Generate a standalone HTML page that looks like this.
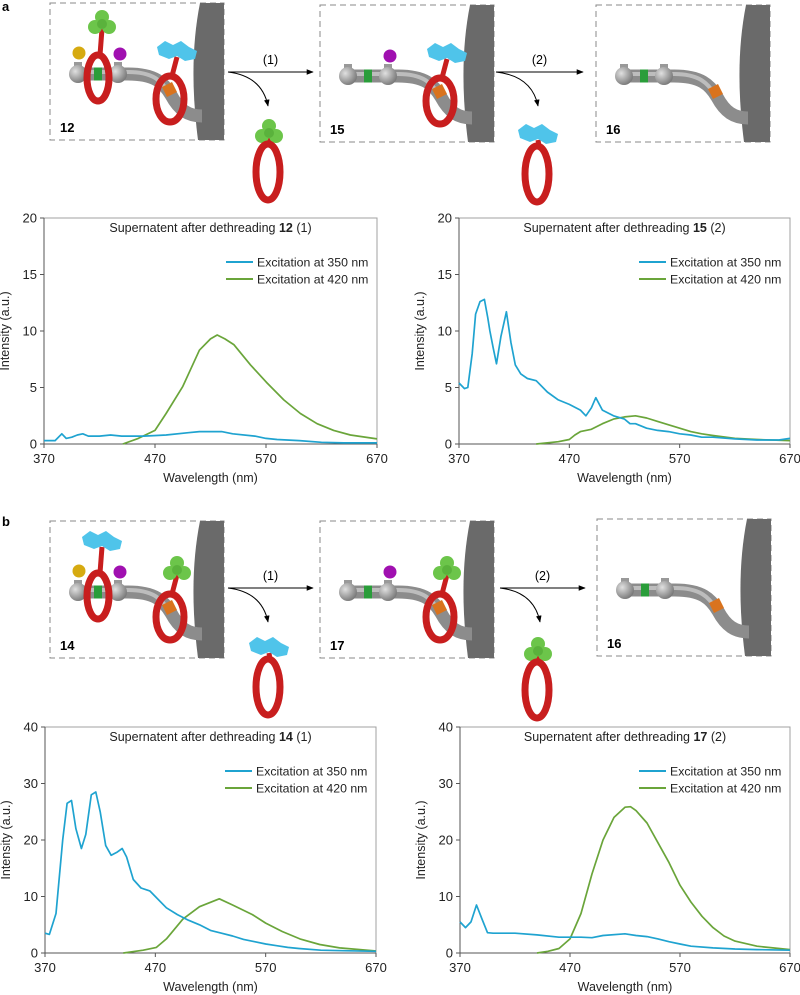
<!DOCTYPE html>
<html><head><meta charset="utf-8"><style>
html,body{margin:0;padding:0;background:#fff;}
svg{display:block;font-family:"Liberation Sans",Arial,sans-serif;}
</style></head><body>
<svg id="fig" width="800" height="995" viewBox="0 0 800 995" xmlns="http://www.w3.org/2000/svg">
<defs>
<radialGradient id="ballg" cx="0.35" cy="0.35" r="0.7"><stop offset="0" stop-color="#e0e0e0"/><stop offset="1" stop-color="#777"/></radialGradient>
<marker id="ah" viewBox="0 0 10 10" refX="9" refY="5" markerWidth="7" markerHeight="7" orient="auto"><path d="M0,1 L10,5 L0,9 z" fill="#000"/></marker>
</defs>
<text x="2" y="11" font-size="13" font-weight="bold">a</text>
<text x="2" y="526" font-size="13" font-weight="bold">b</text>
<g id="schem"></g>
<g id="charts"></g>
</svg>
<script>
// ---------- chart data ----------
const xTicks = [370, 470, 570, 670];
const yTicksTop = [0, 5, 10, 15, 20];
const yTicksBottom = [0, 10, 20, 30, 40];
const seriesNames = ["Excitation at 350 nm", "Excitation at 420 nm"];

const a1BlueX = [370,380,386,390,395,400,405,410,420,430,440,460,480,500,510,520,530,540,560,570,580,600,620,640,670];
const a1BlueY = [0.3,0.3,0.9,0.5,0.6,0.8,0.9,0.7,0.7,0.8,0.7,0.7,0.8,1.0,1.1,1.1,1.1,0.9,0.7,0.5,0.4,0.3,0.15,0.1,0.1];
const a1GreenX = [441,455,470,480,495,510,520,526,533,541,556,571,586,601,616,631,646,670];
const a1GreenY = [0,0.5,1.2,2.7,5.1,8.3,9.3,9.65,9.3,8.8,7.0,5.4,3.9,2.7,1.8,1.2,0.8,0.45];

const a2BlueX = [370,375,378,382,385,389,393,396,398,401,404,408,413,417,421,426,432,440,450,460,470,480,485,490,494,500,510,520,525,530,540,550,560,570,580,590,600,620,640,660,670];
const a2BlueY = [5.4,4.9,5,8,11.5,12.6,12.8,11.2,10,8.5,7.1,9.5,11.7,9,7,6.2,5.8,5.6,4.6,3.9,3.5,3.0,2.5,3.2,4.1,3.0,2.5,2.2,1.8,1.8,1.4,1.2,1.1,0.9,0.8,0.6,0.6,0.45,0.35,0.35,0.5];
const a2GreenX = [440,450,460,470,475,480,490,500,510,520,530,540,550,560,570,580,590,600,620,640,670];
const a2GreenY = [0,0.1,0.2,0.4,0.8,1.1,1.3,1.8,2.2,2.4,2.5,2.3,2.0,1.7,1.4,1.1,0.9,0.75,0.5,0.4,0.3];

const b1BlueX = [370,374,380,386,390,394,398,403,407,412,416,420,425,430,435,440,444,450,457,465,470,480,490,500,510,520,530,540,550,560,570,580,590,600,620,640,670];
const b1BlueY = [3.5,3.3,7,20,26.5,27,22,18.5,21,28,28.5,25,19,17.3,17.8,18.5,17,13,11.5,11,10,8,6.8,5.8,5,4,3.5,3,2.4,2,1.6,1.3,1,0.8,0.5,0.4,0.3];
const b1GreenX = [441,459,471,480,495,510,528,540,558,570,585,601,619,637,670];
const b1GreenY = [0,0.5,1.0,2.5,6,8.2,9.6,8.5,6.8,5.3,3.8,2.5,1.5,0.9,0.35];

const b2BlueX = [370,375,380,385,390,395,400,420,440,460,480,490,500,520,530,540,550,560,570,580,600,620,640,670];
const b2BlueY = [5.5,4.5,5.5,8.5,6,3.6,3.5,3.5,3.2,2.8,2.8,2.7,3.1,3.4,3.1,2.9,2.5,2.0,1.6,1.2,0.9,0.7,0.6,0.5];
const b2GreenX = [440,450,460,470,480,490,500,510,520,525,530,540,550,560,570,580,590,600,610,620,640,670];
const b2GreenY = [0,0.3,0.8,2.5,7,14,20,24,25.8,25.9,25.2,23,19.5,16,12,9,6.5,4.5,3,2.1,1.2,0.6];

const NS = "http://www.w3.org/2000/svg";
function mk(tag, attrs, parent){ const e=document.createElementNS(NS,tag); for(const k in attrs) e.setAttribute(k,attrs[k]); if(parent) parent.appendChild(e); return e; }
const BLUE="#1fa3d0", GREEN="#6aa53a";

function chart(prefix, x0, x1, y0, yTop, yMax, yTicks, bnum, step, bx, by, gx, gy){
  const root=document.getElementById('charts');
  const g=mk('g',{},root);
  
  
  const sx=v=>x0+(v-370)/300*(x1-x0);
  const sy=v=>y0-(v/yMax)*(y0-yTop);
  const frame=mk('path',{d:`M${x0},${yTop} L${x1},${yTop} L${x1},${y0}`,fill:'none',stroke:'#a0a0a0','stroke-width':1},g);
  
  
  const yax=mk('line',{x1:x0,y1:yTop,x2:x0,y2:y0,stroke:'#555','stroke-width':1},g);
  
  
  const xax=mk('line',{x1:x0,y1:y0,x2:x1,y2:y0,stroke:'#555','stroke-width':1},g);
  
  
  yTicks.forEach(t=>{
    mk('line',{x1:x0-4,y1:sy(t),x2:x0,y2:sy(t),stroke:'#555'},g);
    const tx=mk('text',{x:x0-7,y:sy(t)+4.5,'font-size':13,'text-anchor':'end',fill:'#222'},g);
    tx.textContent=t;
    
    
  });
  xTicks.forEach(t=>{
    mk('line',{x1:sx(t),y1:y0,x2:sx(t),y2:y0+4,stroke:'#555'},g);
    const tx=mk('text',{x:sx(t),y:y0+19,'font-size':13,'text-anchor':'middle',fill:'#222'},g);
    tx.textContent=t;
    
    
  });
  const cx=(x0+x1)/2;
  const tt=mk('text',{x:cx,y:yTop+14,'font-size':12.5,'text-anchor':'middle',fill:'#222'},g);
  tt.innerHTML=`Supernatent after dethreading <tspan font-weight="bold">${bnum}</tspan> (${step})`;
  
  
  const xt=mk('text',{x:cx,y:y0+38,'font-size':12.5,'text-anchor':'middle',fill:'#222'},g);
  xt.textContent='Wavelength (nm)';
  
  
  const ymid=(y0+yTop)/2;
  const yt=mk('text',{x:x0-35,y:ymid,'font-size':12.5,'text-anchor':'middle',fill:'#222',transform:`rotate(-90 ${x0-35} ${ymid})`},g);
  yt.textContent='Intensity (a.u.)';
  
  
  [[BLUE,0],[GREEN,1]].forEach(([c,i])=>{
    const ly=yTop+44+i*17;
    const lx=x1-151;
    const ll=mk('line',{x1:lx,y1:ly,x2:lx+27,y2:ly,stroke:c,'stroke-width':2},g);
    
    
    const lt=mk('text',{x:lx+31,y:ly+4.5,'font-size':12.3,fill:'#222'},g);
    lt.textContent=seriesNames[i];
    
    
  });
  const line=(xs,ys,c,name)=>{
    const d=xs.map((x,i)=>(i?'L':'M')+sx(x).toFixed(1)+','+sy(ys[i]).toFixed(1)).join(' ');
    const p=mk('path',{d,fill:'none',stroke:c,'stroke-width':1.7,'stroke-linejoin':'round'},g);
    
    
  };
  line(gx,gy,GREEN,'series-420nm');
  line(bx,by,BLUE,'series-350nm');
}
chart('a1',44,377,444,218,20,yTicksTop,'12','1',a1BlueX,a1BlueY,a1GreenX,a1GreenY);
chart('a2',459,790,444,218,20,yTicksTop,'15','2',a2BlueX,a2BlueY,a2GreenX,a2GreenY);
chart('b1',45,376,953,727,40,yTicksBottom,'14','1',b1BlueX,b1BlueY,b1GreenX,b1GreenY);
chart('b2',460,790,953,727,40,yTicksBottom,'17','2',b2BlueX,b2BlueY,b2GreenX,b2GreenY);

// ---------- schematics ----------
const S=document.getElementById('schem');
function greenBlob(p,x,y){
  const g=mk('g',{},p);
  
  
  [[0,-6],[-7,4],[7,4]].forEach(([dx,dy])=>mk('circle',{cx:x+dx,cy:y+dy,r:7,fill:'#6cc54a'},g));
  mk('circle',{cx:x,cy:y+1,r:5,fill:'#5ab23c'},g);
}
function cyanBlob(p,x,y){
  const g=mk('g',{},p);
  
  
  mk('path',{d:`M${x-20},${y-4} L${x-12},${y-10} L${x-4},${y-6} L${x+4},${y-10} L${x+12},${y-4} L${x+20},${y} L${x+18},${y+8} L${x+8},${y+10} L${x},${y+5} L${x-8},${y+8} L${x-18},${y+4} z`,fill:'#4fc4ea'},g);
}
function ring(p,x,y,rx,ry,blob,bx,by){
  const g=mk('g',{},p);
  
  
  mk('line',{x1:x+2,y1:y-ry,x2:bx,y2:by+6,stroke:'#c81e1e','stroke-width':5},g);
  if(blob==='g') greenBlob(g,bx,by); else cyanBlob(g,bx,by);
  mk('ellipse',{cx:x,cy:y,rx:rx,ry:ry,fill:'none',stroke:'#c81e1e','stroke-width':7},g);
}
function schem(name,ox,oy,label,opts){
  const g=mk('g',{transform:`translate(${ox},${oy})`},S);
  
  
  mk('rect',{x:0,y:0,width:174,height:137,fill:'none',stroke:'#888','stroke-dasharray':'6,4','stroke-width':1},g);
  mk('path',{d:'M150,0 L174,0 L174,137 L148,137 Q138,60 150,0 z',fill:'#6a6a6a'},g);
  mk('path',{d:'M23,71 L78,71 C105,71 114,80 121,92 C129,107 138,113 152,113',fill:'none',stroke:'#8c8c8c','stroke-width':13},g);
  mk('path',{d:'M23,69 L78,69 C103,69 112,78 119,90',fill:'none',stroke:'#bdbdbd','stroke-width':4},g);
  mk('rect',{x:44,y:64.5,width:8,height:13,fill:'#2a9d3a'},g);
  mk('path',{d:'M112,84 L122,79 L127,89 L117,94 z',fill:'#d9731e'},g);
  [28,68].forEach(bx=>{mk('rect',{x:bx-4,y:59,width:8,height:8,fill:'#999'},g);mk('circle',{cx:bx,cy:71,r:9,fill:'url(#ballg)'},g);});
  if(opts.yellow) mk('circle',{cx:29,cy:50,r:6.5,fill:'#d6aa10'},g);
  if(opts.purple) mk('circle',{cx:70,cy:51,r:6.5,fill:'#a010b0'},g);
  if(opts.r1) ring(g,48,75,11,23,opts.r1,52,20);
  if(opts.r2) ring(g,120,96,14,23,opts.r2,127,48);
  const t=mk('text',{x:10,y:129,'font-size':13,'font-weight':'bold'},g);
  t.textContent=label;
  
  
}
schem('rotaxane-12',50,3,'12',{yellow:1,purple:1,r1:'g',r2:'c'});
schem('rotaxane-15',320,5,'15',{purple:1,r2:'c'});
schem('axle-16-a',596,5,'16',{});
schem('rotaxane-14',50,521,'14',{yellow:1,purple:1,r1:'c',r2:'g'});
schem('rotaxane-17',320,521,'17',{purple:1,r2:'g'});
schem('axle-16-b',597,519,'16',{});

function arrow(name,x1,x2,y,label,fx){
  const g=mk('g',{},S);
  
  
  mk('line',{x1:x1,y1:y,x2:x2,y2:y,stroke:'#000','stroke-width':1,'marker-end':'url(#ah)'},g);
  mk('path',{d:`M${x1},${y} Q${fx-6},${y+4} ${fx},${y+34}`,fill:'none',stroke:'#000','stroke-width':1,'marker-end':'url(#ah)'},g);
  const t=mk('text',{x:(x1+x2)/2,y:y-8,'font-size':12.5,'text-anchor':'middle'},g);
  t.textContent=label;
  
  
}
arrow('arrow-step-1-a',228,313,72,'(1)',268);
arrow('arrow-step-2-a',496,583,72,'(2)',538);
arrow('arrow-step-1-b',228,313,588,'(1)',268);
arrow('arrow-step-2-b',500,585,588,'(2)',540);

function freeRing(name,x,y,blob){
  const g=mk('g',{},S);
  
  
  ring(g,x,y,12,28,blob,x+1,y-40);
}
freeRing('released-ring-a1',268,172,'g');
freeRing('released-ring-a2',537,174,'c');
freeRing('released-ring-b1',268,687,'c');
freeRing('released-ring-b2',537,690,'g');
</script>
</body></html>
